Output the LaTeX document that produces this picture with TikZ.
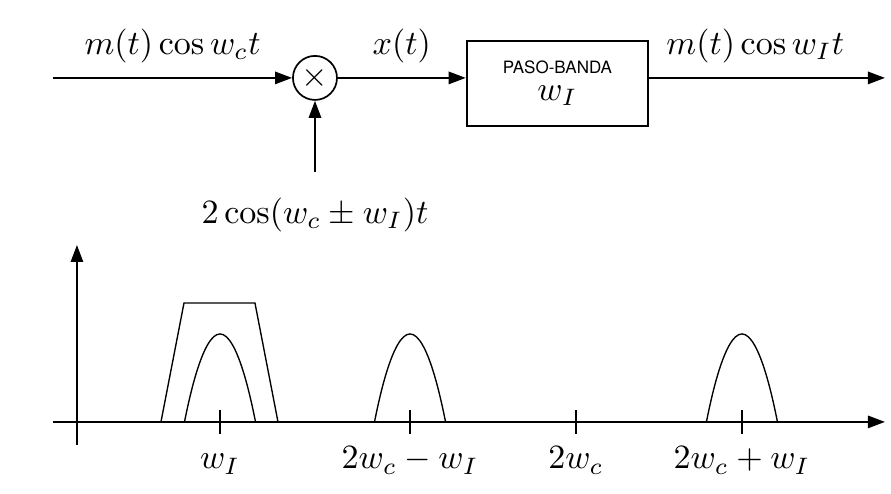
\documentclass[tikz,border=0pt]{standalone}
\usepackage{fontspec}
\newfontfamily\bandfont{TeX Gyre Heros}
\usetikzlibrary{arrows.meta, positioning, calc}
\tikzset{
  sigarr/.style={line width=0.6pt, -{Triangle[length=5pt, width=3.6pt]}},
  multnode/.style={circle, draw, line width=0.5pt, minimum size=0.455cm, inner sep=0pt},
  bpfbox/.style={draw, line width=0.7pt, minimum width=1.87cm, minimum height=0.878cm,
                 align=center, inner sep=0pt},
  axisarr/.style={line width=0.6pt, -{Triangle[length=5pt, width=3.6pt]}},
  specline/.style={line width=0.4pt},
  tickmark/.style={line width=0.4pt},
}

\begin{document}
\begin{tikzpicture}
  \useasboundingbox (0,0) rectangle (9.205,5.103);
  % block diagram
  \coordinate (in) at (0.548,4.298);
  \node[multnode] (mult) at (3.254,4.298) {$\times$};
  \node[bpfbox] (bpf) at (5.759,4.241) {{\bandfont\tiny PASO-BANDA}\\[-4pt] $w_I$};
  \coordinate (out) at (9.143,4.298);
  \coordinate (lo) at (3.254,3.326);
  \node[below=0.14cm of lo] (lolabel) {$2\cos(w_c \pm w_I)t$};
  \draw[sigarr] (in) -- node[above=0.03cm] (inlabel) {$m(t)\cos w_c t$} (mult);
  \draw[sigarr] (mult) -- node[above=0.03cm] (xlabel) {$x(t)$} (mult -| bpf.west);
  \draw[sigarr] (mult -| bpf.east) -- node[pos=0.45, above=0.03cm] (outlabel) {$m(t)\cos w_I t$} (out);
  \draw[sigarr] (lo) -- (mult);

  % spectrum
  \draw[axisarr] (0.548,0.744) -- (9.143,0.744);
  \draw[axisarr] (0.795,0.506) -- (0.795,2.572);
  \draw[specline] (1.663,0.744) -- (1.901,1.973) -- (2.634,1.973) -- (2.872,0.744);
  \draw[specline] (1.906,0.744) parabola bend (2.273,1.653) (2.640,0.744);
  \draw[specline] (3.869,0.744) parabola bend (4.236,1.653) (4.603,0.744);
  \draw[specline] (7.298,0.744) parabola bend (7.665,1.653) (8.032,0.744);
  \draw[tickmark] (2.273,0.620) -- (2.273,0.868);
  \draw[tickmark] (4.236,0.620) -- (4.236,0.868);
  \draw[tickmark] (5.950,0.620) -- (5.950,0.868);
  \draw[tickmark] (7.665,0.620) -- (7.665,0.868);
  \node[anchor=base] (fi) at (2.273,0.258) {$w_I$};
  \node[anchor=base] (fdiff) at (4.236,0.258) {$2w_c - w_I$};
  \node[anchor=base] (fc) at (5.950,0.258) {$2w_c$};
  \node[anchor=base] (fsum) at (7.665,0.258) {$2w_c + w_I$};
\end{tikzpicture}
\end{document}
